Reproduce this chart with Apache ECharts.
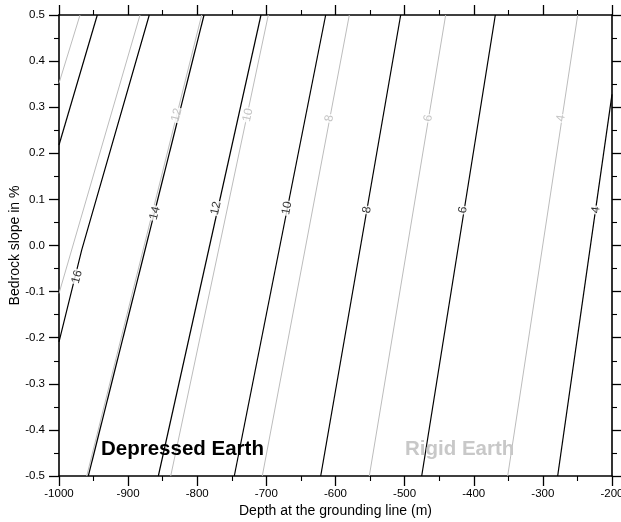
<!DOCTYPE html>
<html>
<head>
<meta charset="utf-8">
<script src="https://cdn.jsdelivr.net/npm/echarts@6/dist/echarts.min.js"></script>
<style>
html,body{margin:0;padding:0;background:#fff;}
#chart{width:621px;height:522px;}
</style>
</head>
<body>
<div id="chart"></div>
<script>
// Depressed Earth contour lines (black)
const depressedLevels = [18, 16, 14, 12, 10, 8, 6, 4];
const depressedX = [
  [-1000, -944.6],
  [-1000, -967.2, -869.4],
  [-957.6, -790.2],
  [-856.3, -707.8],
  [-746.4, -614.2],
  [-621.4, -505.7],
  [-475.3, -368.8],
  [-278.6, -200]
];
const depressedY = [
  [0.218, 0.5],
  [-0.209, -0.010, 0.5],
  [-0.5, 0.5],
  [-0.5, 0.5],
  [-0.5, 0.5],
  [-0.5, 0.5],
  [-0.5, 0.5],
  [-0.5, 0.328]
];
const depressedLabelLevels = [16, 14, 12, 10, 8, 6, 4];
const depressedLabelX = [-974, -861.1, -772.9, -670.2, -554.4, -415.6, -223.1];
const depressedLabelY = [-0.068, 0.070, 0.081, 0.081, 0.077, 0.077, 0.077];

// Rigid Earth contour lines (grey)
const rigidLevels = [16, 14, 12, 10, 8, 6, 4];
const rigidX = [
  [-1000, -969.6],
  [-1000, -882.8],
  [-959.9, -793.6],
  [-838.4, -697.2],
  [-705.9, -580.0],
  [-551.1, -440.6],
  [-350.9, -249.6]
];
const rigidY = [
  [0.352, 0.5],
  [-0.104, 0.5],
  [-0.5, 0.5],
  [-0.5, 0.5],
  [-0.5, 0.5],
  [-0.5, 0.5],
  [-0.5, 0.5]
];
const rigidLabelLevels = [12, 10, 8, 6, 4];
const rigidLabelX = [-829.7, -726.6, -609.0, -465.8, -273.8];
const rigidLabelY = [0.283, 0.283, 0.276, 0.276, 0.276];

// Axes
const xMin = -1000, xMax = -200, xStep = 100;
const yMin = -0.5, yMax = 0.5, yStep = 0.1;
const xTitle = 'Depth at the grounding line (m)';
const yTitle = 'Bedrock slope in %';

const FONT = '"Liberation Sans", Arial, Helvetica, sans-serif';
const BLACK = '#000000';
const GREY = '#bcbcbc';

const chart = echarts.init(document.getElementById('chart'), null, {renderer: 'canvas'});

function axisCommon() {
  return {
    axisLine: {show: true, onZero: false, lineStyle: {color: '#000', width: 1.6}},
    axisTick: {show: true, inside: false, length: 10, lineStyle: {color: '#000', width: 1.3}},
    minorTick: {show: true, splitNumber: 2, length: 5, lineStyle: {color: '#000', width: 1.1}},
    splitLine: {show: false},
    minorSplitLine: {show: false}
  };
}

function buildLines(xs, ys, levels, color, width, prefix) {
  return xs.map((xArr, i) => ({
    name: prefix + levels[i],
    type: 'line',
    xAxisIndex: 0, yAxisIndex: 0,
    data: xArr.map((x, j) => [x, ys[i][j]]),
    showSymbol: false,
    symbol: 'none',
    silent: true,
    animation: false,
    lineStyle: {color: color, width: width},
    z: color === BLACK ? 3 : 2
  }));
}

function buildLabels(lx, ly, lv, color, rotations, name, z) {
  return {
    name: name,
    type: 'scatter',
    xAxisIndex: 0, yAxisIndex: 0,
    symbolSize: 0,
    silent: true,
    animation: false,
    z: z,
    data: lx.map((x, i) => ({
      value: [x, ly[i]],
      label: {
        show: true,
        position: 'inside',
        formatter: String(lv[i]),
        rotate: rotations ? rotations[i] : 78,
        color: color,
        fontFamily: FONT,
        fontSize: 12,
        backgroundColor: '#fff',
        padding: [0, 1, 0, 1]
      }
    }))
  };
}

function makeOption(dRot, rRot) {
  return {
    backgroundColor: '#fff',
    animation: false,
    grid: {left: 59, right: 9, top: 15, bottom: 46, containLabel: false, outerBoundsMode: 'none'},
    xAxis: [
      Object.assign({
        type: 'value', position: 'bottom', min: xMin, max: xMax, interval: xStep,
        name: xTitle, nameLocation: 'middle', nameGap: 28, nameMoveOverlap: false,
        nameTextStyle: {fontFamily: FONT, fontSize: 14, color: '#000'},
        axisLabel: {show: true, margin: 12, fontFamily: FONT, fontSize: 11.5, color: '#000',
          formatter: v => String(v)}
      }, axisCommon()),
      Object.assign({
        type: 'value', position: 'top', min: xMin, max: xMax, interval: xStep,
        axisLabel: {show: false}
      }, axisCommon())
    ],
    yAxis: [
      Object.assign({
        type: 'value', position: 'left', min: yMin, max: yMax, interval: yStep,
        name: yTitle, nameLocation: 'middle', nameGap: 37, nameRotate: 90, nameMoveOverlap: false,
        nameTextStyle: {fontFamily: FONT, fontSize: 14, color: '#000'},
        axisLabel: {show: true, margin: 14, fontFamily: FONT, fontSize: 11.5, color: '#000',
          formatter: v => (Math.abs(v) < 1e-9 ? 0 : v).toFixed(1)}
      }, axisCommon()),
      Object.assign({
        type: 'value', position: 'right', min: yMin, max: yMax, interval: yStep,
        axisLabel: {show: false}
      }, axisCommon())
    ],
    graphic: [
      {type: 'text', left: 101, top: 439, z: 10,
        style: {text: 'Depressed Earth', font: 'bold 20.5px ' + FONT, fill: '#000'}},
      {type: 'text', left: 405, top: 439, z: 10,
        style: {text: 'Rigid Earth', font: 'bold 20.5px ' + FONT, fill: '#c8c8c8'}}
    ],
    series: [
      ...buildLines(rigidX, rigidY, rigidLevels, GREY, 1, 'rigid'),
      ...buildLines(depressedX, depressedY, depressedLevels, BLACK, 1.2, 'depressed'),
      buildLabels(rigidLabelX, rigidLabelY, rigidLabelLevels, '#b4b4b4', rRot, 'rigidLabels', 4),
      buildLabels(depressedLabelX, depressedLabelY, depressedLabelLevels, BLACK, dRot, 'depressedLabels', 5)
    ]
  };
}

chart.setOption(makeOption(null, null));

function lineAngle(xs, ys) {
  const n = xs.length - 1;
  const p0 = chart.convertToPixel({gridIndex: 0}, [xs[0], ys[0]]);
  const p1 = chart.convertToPixel({gridIndex: 0}, [xs[n], ys[n]]);
  return Math.atan2(p0[1] - p1[1], p1[0] - p0[0]) * 180 / Math.PI;
}
const dRot = depressedLabelLevels.map(l => {
  const i = depressedLevels.indexOf(l);
  return lineAngle(depressedX[i], depressedY[i]);
});
const rRot = rigidLabelLevels.map(l => {
  const i = rigidLevels.indexOf(l);
  return lineAngle(rigidX[i], rigidY[i]);
});
chart.setOption(makeOption(dRot, rRot), true);
</script>
</body>
</html>
